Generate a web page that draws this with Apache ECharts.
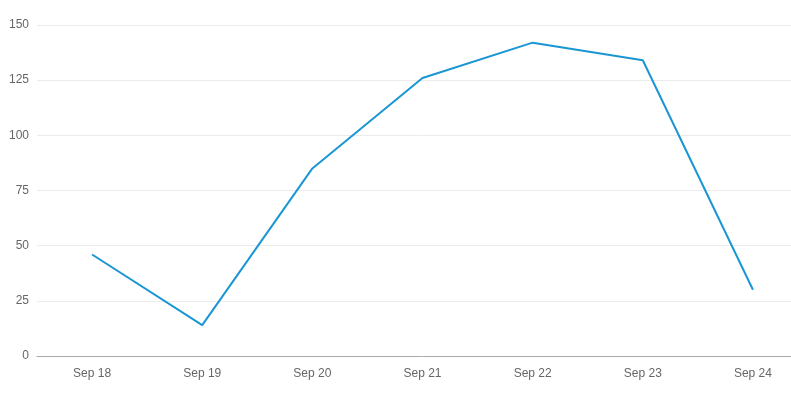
<!DOCTYPE html>
<html><head><meta charset="utf-8">
<script src="https://cdn.jsdelivr.net/npm/echarts@6/dist/echarts.min.js"></script>
<style>html,body{margin:0;padding:0;background:#fff;overflow:hidden;width:791px;height:405px;}#c{width:808px;height:405px;}</style>
</head><body><div id="c"></div>
<script>
const categories = ["Sep 18","Sep 19","Sep 20","Sep 21","Sep 22","Sep 23","Sep 24"];
const values = [46, 14, 85, 126, 142, 134, 30];
const yTicks = [0, 25, 50, 75, 100, 125, 150];
const chart = echarts.init(document.getElementById('c'), null, {renderer:'canvas'});
chart.setOption({
  animation:false,
  grid:{left:37, right:0, top:25, bottom:49, containLabel:false},
  xAxis:{type:'category', data:categories, boundaryGap:true,
    axisLine:{lineStyle:{color:'#aaaaaa'}},
    axisTick:{alignWithLabel:true, length:5, lineStyle:{color:'#aaaaaa'}},
    axisLabel:{color:'#666', fontSize:12, margin:12, fontFamily:'Arial, Liberation Sans, sans-serif'}},
  yAxis:{type:'value', min:yTicks[0], max:yTicks[yTicks.length-1], interval:25,
    axisLine:{show:false}, axisTick:{show:false},
    splitLine:{lineStyle:{color:'#ebebeb'}},
    axisLabel:{color:'#666', fontSize:12, margin:8, fontFamily:'Arial, Liberation Sans, sans-serif'}},
  series:[{type:'line', data:values, symbol:'none', lineStyle:{color:'#1a96d4', width:2}, itemStyle:{color:'#1a96d4'}}]
});
</script></body></html>
